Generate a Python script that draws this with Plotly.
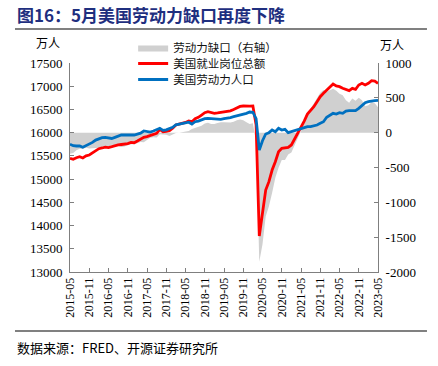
import pandas as pd
import plotly.graph_objects as go

# ---- data (万人), monthly 2015-05 .. 2023-05 ----
months = pd.date_range("2015-05-01", periods=97, freq="MS").strftime("%Y-%m").tolist()

jobs_total = [  # 美国就业岗位总额
    15448, 15427, 15460, 15483, 15455, 15500, 15519, 15569, 15620, 15655,
    15670, 15690, 15678, 15700, 15720, 15735, 15745, 15750, 15765, 15790,
    15784, 15820, 15857, 15900, 15914, 15940, 15971, 15986, 16072, 16021,
    16030, 16042, 16094, 16165, 16185, 16201, 16220, 16250, 16236, 16300,
    16331, 16380, 16430, 16452, 16430, 16417, 16425, 16438, 16450, 16452,
    16470, 16500, 16540, 16565, 16574, 16565, 16570, 16574, 16170, 13775,
    14227, 14766, 14945, 15196, 15375, 15590, 15663, 15678, 15685, 15735,
    15857, 15986, 16116, 16250, 16400, 16474, 16560, 16667, 16775, 16847,
    16919, 16990, 17048, 17005, 16990, 16955, 16930, 16905, 16955, 16933,
    17026, 17062, 17026, 17062, 17120, 17110, 17060,
]

labor_force = [  # 美国劳动力人口
    15750, 15720, 15713, 15715, 15685, 15715, 15745, 15790, 15840, 15870,
    15892, 15900, 15880, 15875, 15900, 15925, 15950, 15950, 15945, 15955,
    15950, 15970, 15990, 16036, 16020, 16014, 16035, 16057, 16094, 16050,
    16060, 16090, 16116, 16170, 16185, 16195, 16210, 16225, 16185, 16236,
    16250, 16280, 16300, 16309, 16305, 16294, 16285, 16287, 16300, 16309,
    16325, 16344, 16360, 16375, 16395, 16417, 16445, 16440, 16300, 15627,
    15827, 15971, 16000, 16057, 16021, 16094, 16057, 16072, 16000, 16021,
    16042, 16072, 16090, 16107, 16129, 16129, 16144, 16165, 16201, 16236,
    16331, 16380, 16417, 16402, 16430, 16417, 16466, 16474, 16466, 16474,
    16524, 16596, 16646, 16667, 16682, 16689, 16695,
]

labor_gap = [  # 劳动力缺口（右轴）
    -302, -293, -253, -232, -230, -215, -226, -221, -220, -215,
    -222, -210, -202, -175, -180, -190, -205, -200, -180, -165,
    -166, -150, -133, -136, -106, -74, -64, -71, -22, -29,
    -30, -48, -22, -5, 0, 6, 10, 25, 51, 64,
    81, 100, 130, 143, 125, 123, 140, 151, 150, 143,
    145, 156, 180, 190, 179, 148, 125, 134, -130, -1852,
    -1600, -1205, -1055, -861, -646, -504, -394, -394, -315, -286,
    -185, -86, 26, 143, 271, 345, 416, 502, 574, 611,
    588, 610, 631, 603, 560, 538, 464, 431, 489, 459,
    502, 466, 380, 395, 438, 421, 365,
]

x_ticks = ["2015-05", "2015-11", "2016-05", "2016-11", "2017-05", "2017-11",
           "2018-05", "2018-11", "2019-05", "2019-11", "2020-05", "2020-11",
           "2021-05", "2021-11", "2022-05", "2022-11", "2023-05"]
left_ticks = [13000, 13500, 14000, 14500, 15000, 15500, 16000, 16500, 17000, 17500]
right_ticks = [-2000, -1500, -1000, -500, 0, 500, 1000]

SERIF = "Liberation Serif, Times New Roman, Noto Sans CJK SC, serif"
CJK = "Noto Sans CJK SC, sans-serif"

fig = go.Figure()
fig.add_trace(go.Scatter(
    x=months, y=labor_gap, name="劳动力缺口（右轴）", mode="lines",
    line=dict(width=0, color="#D0D0D0"), fill="tozeroy", fillcolor="#D0D0D0",
    yaxis="y", legend="legend"))
fig.add_trace(go.Scatter(
    x=months, y=jobs_total, name="美国就业岗位总额", mode="lines",
    line=dict(width=2.8, color="#FF0000"), yaxis="y2", legend="legend2"))
fig.add_trace(go.Scatter(
    x=months, y=labor_force, name="美国劳动力人口", mode="lines",
    line=dict(width=2.8, color="#0070C0"), yaxis="y2", legend="legend3"))

axis_line = "#7F7F7F"
leg_common = dict(x=0.205, xanchor="left", yanchor="middle", bgcolor="rgba(0,0,0,0)",
                  font=dict(family=CJK, size=11.5, color="#111"), itemwidth=30)
fig.update_layout(
    width=438, height=366,
    margin=dict(l=70, r=60, t=63, b=94),
    paper_bgcolor="white", plot_bgcolor="white",
    showlegend=True,
    legend=dict(y=1.0742, **leg_common),
    legend2=dict(y=0.9976, **leg_common),
    legend3=dict(y=0.9211, **leg_common),
    xaxis=dict(type="category", categoryorder="array", categoryarray=months,
               range=[0, 96], tickmode="array", tickvals=x_ticks, ticktext=x_ticks,
               tickangle=-90, ticks="inside", ticklen=4, tickcolor=axis_line,
               showline=True, linecolor=axis_line, linewidth=1,
               showgrid=False, zeroline=False,
               tickfont=dict(family=SERIF, size=12, color="#000")),
    yaxis=dict(side="right", range=[-2000, 1000], tickmode="array",
               tickvals=right_ticks, ticktext=[str(v) for v in right_ticks],
               ticks="inside", ticklen=4, tickcolor=axis_line,
               showline=True, linecolor=axis_line, linewidth=1,
               showgrid=False, zeroline=False, ticklabelstandoff=4,
               tickfont=dict(family=SERIF, size=13, color="#000")),
    yaxis2=dict(side="left", overlaying="y", range=[13000, 17500], tickmode="array",
                tickvals=left_ticks, ticktext=[str(v) for v in left_ticks],
                ticks="inside", ticklen=4, tickcolor=axis_line,
                showline=True, linecolor=axis_line, linewidth=1,
                showgrid=False, zeroline=False, ticklabelstandoff=4,
                tickfont=dict(family=SERIF, size=13, color="#000")),
)

fig.add_annotation(xref="paper", yref="paper", x=-0.07, y=1.05, text="万人",
                   showarrow=False, xanchor="center", yanchor="bottom",
                   font=dict(family=CJK, size=12, color="#000"))
fig.add_annotation(xref="paper", yref="paper", x=1.045, y=1.04, text="万人",
                   showarrow=False, xanchor="center", yanchor="bottom",
                   font=dict(family=CJK, size=12, color="#000"))

# title, rules, source
fig.add_annotation(xref="paper", yref="paper", x=-0.1786, y=1.234,
                   text="<b>图16：5月美国劳动力缺口再度下降</b>",
                   showarrow=False, xanchor="left", yanchor="middle",
                   font=dict(family=CJK, size=17, color="#1F2F7F"))
fig.add_shape(type="line", xref="paper", yref="paper", x0=-0.1786, x1=1.159, y0=1.1627, y1=1.1627,
              line=dict(color="#808080", width=2))
fig.add_shape(type="line", xref="paper", yref="paper", x0=-0.1786, x1=1.159, y0=-0.2823, y1=-0.2823,
              line=dict(color="#808080", width=2))
fig.add_annotation(xref="paper", yref="paper", x=-0.1786, y=-0.3589,
                   text="数据来源：FRED、开源证券研究所",
                   showarrow=False, xanchor="left", yanchor="middle",
                   font=dict(family=CJK, size=13, color="#000"))

fig.write_html("out.html", config={"displayModeBar": False},
               post_script="document.body.style.margin='0';")
